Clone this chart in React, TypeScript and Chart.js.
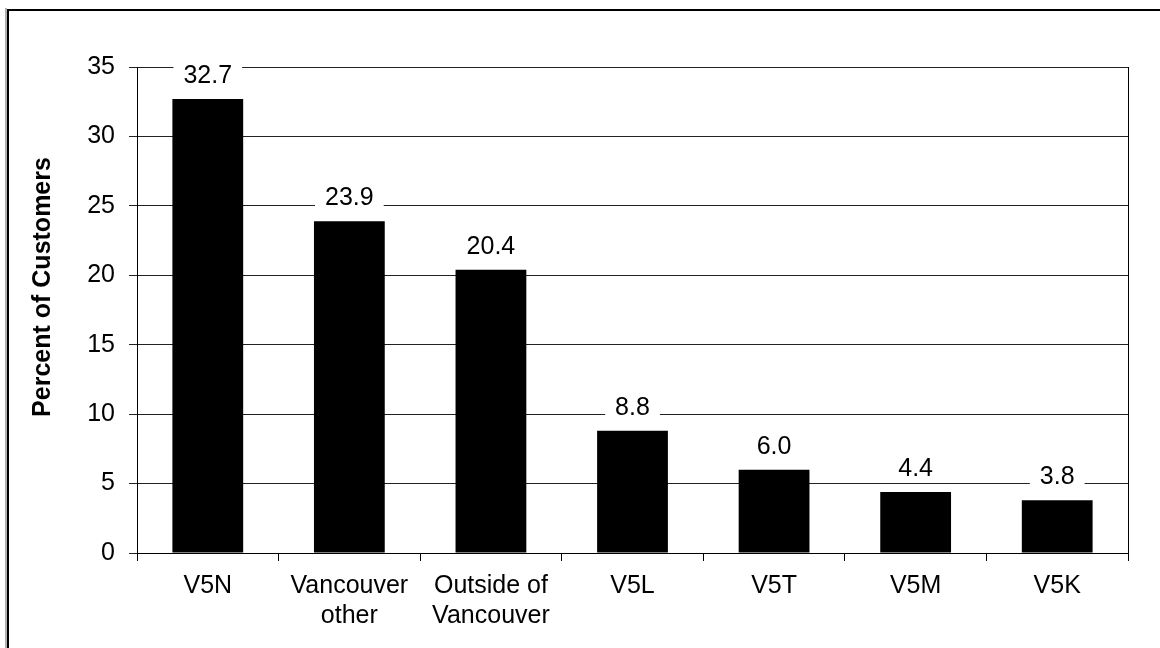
import React, { useEffect, useRef } from "react";
import { Chart, registerables } from "chart.js";

Chart.register(...registerables);

const categories: (string | string[])[] = [
  "V5N",
  ["Vancouver", "other"],
  ["Outside of", "Vancouver"],
  "V5L",
  "V5T",
  "V5M",
  "V5K",
];
const percentCustomers: number[] = [32.7, 23.9, 20.4, 8.8, 6.0, 4.4, 3.8];
const yTicks: number[] = [0, 5, 10, 15, 20, 25, 30, 35];
const yTitle = "Percent of Customers";

const FONT = "'Liberation Sans', Arial, sans-serif";

// White page, frame edges and the closing right edge of the plot box
const framePlugin = {
  id: "frame",
  beforeDraw(chart: Chart) {
    const ctx = chart.ctx;
    ctx.save();
    ctx.fillStyle = "#ffffff";
    ctx.fillRect(0, 0, chart.width, chart.height);
    ctx.fillStyle = "#b0b0b0";
    ctx.fillRect(5, 8, 2, chart.height - 8);
    ctx.fillStyle = "#000000";
    ctx.fillRect(7, 9, chart.width - 7, 2);
    ctx.fillRect(7, 9, 2, chart.height - 9);
    ctx.restore();
  },
  afterDraw(chart: Chart) {
    const { ctx, chartArea } = chart;
    ctx.save();
    ctx.strokeStyle = "#000000";
    ctx.lineWidth = 1;
    const x = Math.round(chartArea.right) + 0.5;
    ctx.beginPath();
    ctx.moveTo(x, chartArea.top);
    ctx.lineTo(x, chartArea.bottom + 8);
    ctx.stroke();

    // rotated axis title
    ctx.fillStyle = "#000000";
    ctx.font = `bold 25px ${FONT}`;
    ctx.textAlign = "center";
    ctx.textBaseline = "alphabetic";
    ctx.translate(50, 287);
    ctx.rotate(-Math.PI / 2);
    ctx.fillText(yTitle, 0, 0);
    ctx.restore();
  },
};

// Value labels on white boxes above each bar
const valueLabelPlugin = {
  id: "valueLabels",
  afterDatasetsDraw(chart: Chart) {
    const ctx = chart.ctx;
    const meta = chart.getDatasetMeta(0);
    const data = chart.data.datasets[0].data as number[];
    ctx.save();
    ctx.font = `25px ${FONT}`;
    ctx.textAlign = "center";
    ctx.textBaseline = "alphabetic";
    meta.data.forEach((bar: any, i: number) => {
      const text = data[i].toFixed(1);
      const w = ctx.measureText(text).width;
      const baseline = bar.y - 16;
      ctx.fillStyle = "#ffffff";
      ctx.fillRect(bar.x - w / 2 - 10, baseline - 22, w + 20, 27);
      ctx.fillStyle = "#000000";
      ctx.fillText(text, bar.x, baseline);
    });
    ctx.restore();
  },
};

export default function App() {
  const canvasRef = useRef<HTMLCanvasElement | null>(null);

  useEffect(() => {
    const canvas = canvasRef.current;
    if (!canvas) return;
    const chart = new Chart(canvas, {
      type: "bar",
      data: {
        labels: categories,
        datasets: [
          {
            data: percentCustomers,
            backgroundColor: "#000000",
            borderWidth: 0,
            barPercentage: 0.5,
            categoryPercentage: 1,
          },
        ],
      },
      options: {
        responsive: false,
        animation: false,
        devicePixelRatio: 1,
        layout: { padding: { top: 67, right: 32, bottom: 0, left: 0 } },
        plugins: {
          legend: { display: false },
          tooltip: { enabled: false },
        },
        scales: {
          x: {
            grid: {
              offset: true,
              drawOnChartArea: false,
              drawTicks: true,
              tickLength: 8,
              color: "#000000",
            },
            border: { display: true, color: "#000000", width: 1 },
            ticks: {
              color: "#000000",
              font: { family: FONT, size: 25, lineHeight: 1.2 },
              padding: 10,
              maxRotation: 0,
              autoSkip: false,
            },
            afterFit(scale: any) {
              scale.height = 95;
              scale.paddingLeft = 0;
              scale.paddingRight = 0;
            },
          },
          y: {
            min: 0,
            max: 35,
            afterBuildTicks(scale: any) {
              scale.ticks = yTicks.map((v) => ({ value: v }));
            },
            grid: {
              color: "#222222",
              lineWidth: 1,
              drawTicks: true,
              tickLength: 8,
            },
            border: { display: true, color: "#000000", width: 1 },
            ticks: {
              color: "#000000",
              font: { family: FONT, size: 25 },
              padding: 14,
            },
            afterFit(scale: any) {
              scale.width = 137;
              scale.paddingTop = 0;
              scale.paddingBottom = 0;
            },
          },
        },
      },
      plugins: [framePlugin, valueLabelPlugin],
    });
    return () => chart.destroy();
  }, []);

  return (
    <canvas
      ref={canvasRef}
      width={1160}
      height={648}
      style={{ position: "absolute", left: 0, top: 0, display: "block" }}
    />
  );
}
